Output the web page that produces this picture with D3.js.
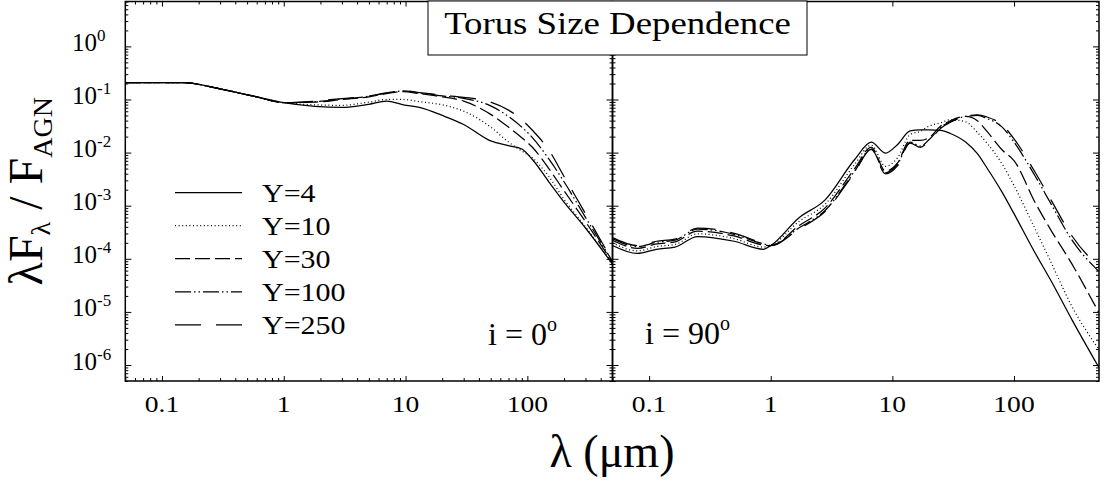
<!DOCTYPE html>
<html>
<head>
<meta charset="utf-8">
<script src="https://cdn.jsdelivr.net/npm/d3@7"></script>
<style>
  html, body { margin: 0; padding: 0; background: #fff; }
  svg { display: block; }
</style>
</head>
<body>
<div id="chart"></div>
<script>
// ---- data -------------------------------------------------------------
const seriesNames = ["Y=4", "Y=10", "Y=30", "Y=100", "Y=250"];

// face-on (i = 0°) spectra
const lambdaFaceOn = [0.05, 0.15, 0.3, 0.6, 1, 1.8, 3, 5, 7, 9.6, 13, 20, 30, 50, 70, 90, 110, 150, 200, 300, 500];
const faceOnY4   = [0.207, 0.207, 0.158, 0.112, 0.0871, 0.0741, 0.0708, 0.0813, 0.0933, 0.0794, 0.0708, 0.0501, 0.0339, 0.0166, 0.0135, 0.0117, 0.00741, 0.00282, 0.00117, 3.80e-4, 7.94e-5];
const faceOnY10  = [0.207, 0.207, 0.158, 0.112, 0.0871, 0.0794, 0.0776, 0.0891, 0.100, 0.100, 0.0912, 0.0794, 0.0603, 0.0302, 0.0158, 0.0107, 0.00794, 0.00355, 0.00132, 3.98e-4, 8.13e-5];
const faceOnY30  = [0.207, 0.207, 0.158, 0.112, 0.0871, 0.0891, 0.100, 0.112, 0.129, 0.141, 0.129, 0.112, 0.0933, 0.0525, 0.0302, 0.0191, 0.0126, 0.00501, 0.00191, 5.01e-4, 8.51e-5];
const faceOnY100 = [0.207, 0.207, 0.158, 0.112, 0.0871, 0.0912, 0.102, 0.115, 0.132, 0.145, 0.132, 0.117, 0.105, 0.0759, 0.0479, 0.0302, 0.0191, 0.00759, 0.00282, 6.03e-4, 8.91e-5];
const faceOnY250 = [0.207, 0.207, 0.158, 0.112, 0.0871, 0.0933, 0.104, 0.116, 0.133, 0.146, 0.135, 0.120, 0.110, 0.0891, 0.0631, 0.0417, 0.0263, 0.0112, 0.00355, 7.08e-4, 9.12e-5];

// edge-on (i = 90°) spectra
const lambdaEdgeOn = [0.05, 0.08, 0.115, 0.163, 0.25, 0.5, 0.87, 1.0, 1.7, 2.8, 4.9, 6.7, 8.8, 11, 14, 17, 20, 25, 30, 40, 50, 60, 80, 100, 150, 200, 300, 500];
const edgeOnY4   = [1.78e-4, 1.26e-4, 1.51e-4, 1.66e-4, 2.63e-4, 2.14e-4, 1.51e-4, 1.78e-4, 5.89e-4, 1.29e-3, 7.41e-3, 1.58e-2, 9.77e-3, 1.41e-2, 2.57e-2, 2.69e-2, 2.69e-2, 2.63e-2, 2.29e-2, 1.58e-2, 9.55e-3, 5.13e-3, 1.78e-3, 7.08e-4, 1.26e-4, 3.98e-5, 7.08e-6, 8.91e-7];
const edgeOnY10  = [2.00e-4, 1.41e-4, 1.70e-4, 1.86e-4, 2.95e-4, 2.40e-4, 1.66e-4, 1.78e-4, 5.01e-4, 1.07e-3, 6.03e-3, 1.38e-2, 5.50e-3, 7.94e-3, 2.19e-2, 2.51e-2, 3.16e-2, 3.63e-2, 4.17e-2, 3.80e-2, 2.40e-2, 1.51e-2, 6.03e-3, 2.40e-3, 3.55e-4, 8.91e-5, 1.26e-5, 1.95e-6];
const edgeOnY30  = [2.24e-4, 1.58e-4, 1.91e-4, 2.09e-4, 3.31e-4, 2.69e-4, 1.82e-4, 1.78e-4, 4.17e-4, 9.12e-4, 5.01e-3, 1.26e-2, 4.47e-3, 6.31e-3, 1.70e-2, 1.70e-2, 1.91e-2, 3.16e-2, 3.98e-2, 4.79e-2, 3.98e-2, 2.51e-2, 1.12e-2, 7.08e-3, 1.12e-3, 3.55e-4, 7.94e-5, 9.55e-6];
const edgeOnY100 = [2.40e-4, 1.70e-4, 2.04e-4, 2.24e-4, 3.63e-4, 2.88e-4, 1.91e-4, 1.78e-4, 3.80e-4, 8.13e-4, 4.47e-3, 1.17e-2, 4.17e-3, 6.03e-3, 1.58e-2, 1.32e-2, 1.74e-2, 3.02e-2, 3.80e-2, 4.79e-2, 5.01e-2, 4.37e-2, 3.02e-2, 1.58e-2, 3.55e-3, 1.12e-3, 2.24e-4, 5.75e-5];
const edgeOnY250 = [2.51e-4, 1.78e-4, 2.14e-4, 2.34e-4, 3.80e-4, 3.02e-4, 1.95e-4, 1.78e-4, 3.63e-4, 7.76e-4, 4.27e-3, 1.15e-2, 3.98e-3, 5.62e-3, 1.51e-2, 1.26e-2, 1.66e-2, 2.88e-2, 3.72e-2, 4.79e-2, 5.13e-2, 4.68e-2, 3.31e-2, 1.82e-2, 4.17e-3, 1.32e-3, 2.69e-4, 6.92e-5];

// axis ticks
const xMajorTicks = [0.1, 1, 10, 100];
const xTickLabels = ["0.1", "1", "10", "100"];
const yMajorTicks = [1, 0.1, 0.01, 1e-3, 1e-4, 1e-5, 1e-6];
const yTickExponents = ["0", "-1", "-2", "-3", "-4", "-5", "-6"];

// ---- layout -----------------------------------------------------------
const W = 1108, H = 481;
const FONT = "'Liberation Serif', 'Times New Roman', Times, serif";
const plotTop = 1.5, plotBottom = 381;
const panels = [
  { x0: 125.3, x1: 612.5, lambda: lambdaFaceOn,
    series: [faceOnY4, faceOnY10, faceOnY30, faceOnY100, faceOnY250],
    note: "i = 0", noteX: 488, noteY: 345, minorX: true },
  { x0: 612.5, x1: 1099, lambda: lambdaEdgeOn,
    series: [edgeOnY4, edgeOnY10, edgeOnY30, edgeOnY100, edgeOnY250],
    note: "i = 90", noteX: 645, noteY: 344, minorX: false }
];
const dashes = [null, "1,2.6", "15,5", "16,3,1.5,3,1.5,3", "26,15"];

const svg = d3.select("#chart").append("svg")
  .attr("width", W).attr("height", H)
  .style("font-family", FONT);

const y = d3.scaleLog().domain([5e-7, 7]).range([plotBottom, plotTop]);
const yMinor = y.ticks().filter(v => !yMajorTicks.some(m => Math.abs(v / m - 1) < 1e-6));

function text(g, x, yy, sx) {
  return g.append("text")
    .attr("transform", `translate(${x},${yy}) scale(${sx},1)`)
    .attr("fill", "#000");
}

panels.forEach((p, i) => {
  const x = d3.scaleLog().domain([0.05, 500]).range([p.x0, p.x1]);
  const g = svg.append("g");

  // curves
  const clipId = "clip" + i;
  svg.append("clipPath").attr("id", clipId).append("rect")
    .attr("x", p.x0).attr("y", plotTop).attr("width", p.x1 - p.x0).attr("height", plotBottom - plotTop);
  const line = d3.line()
    .x(d => x(d[0])).y(d => y(d[1]))
    .curve(d3.curveMonotoneX);
  p.series.forEach((vals, k) => {
    g.append("path")
      .attr("clip-path", `url(#${clipId})`)
      .attr("d", line(p.lambda.map((l, j) => [l, vals[j]])))
      .attr("fill", "none").attr("stroke", "#000")
      .attr("stroke-width", 1.25)
      .attr("stroke-dasharray", dashes[k]);
  });

  // x ticks (inward), bottom and top
  const xMinor = x.ticks().filter(v => !xMajorTicks.some(m => Math.abs(v / m - 1) < 1e-6));
  const addX = (axisFn, ty, vals, len) => {
    const a = g.append("g").attr("transform", `translate(0,${ty})`)
      .call(axisFn(x).tickValues(vals).tickSize(len).tickFormat(""));
    a.select(".domain").remove();
    a.selectAll("line").attr("stroke-width", 1);
  };
  addX(d3.axisBottom, plotBottom, xMajorTicks, -5);
  addX(d3.axisTop, plotTop, xMajorTicks, -5);
  if (p.minorX) {
    addX(d3.axisBottom, plotBottom, xMinor, -3);
    addX(d3.axisTop, plotTop, xMinor, -3);
  }

  // y ticks (inward), left and right
  const addY = (axisFn, tx, vals, len) => {
    const a = g.append("g").attr("transform", `translate(${tx},0)`)
      .call(axisFn(y).tickValues(vals).tickSize(len).tickFormat(""));
    a.select(".domain").remove();
    a.selectAll("line").attr("stroke-width", 1);
  };
  addY(d3.axisLeft, p.x0, yMajorTicks, -6);
  addY(d3.axisLeft, p.x0, yMinor, -3);
  addY(d3.axisRight, p.x1, yMajorTicks, -6);
  addY(d3.axisRight, p.x1, yMinor, -3);

  // frame
  g.append("rect")
    .attr("x", p.x0).attr("y", plotTop)
    .attr("width", p.x1 - p.x0).attr("height", plotBottom - plotTop)
    .attr("fill", "none").attr("stroke", "#000").attr("stroke-width", 1.5);

  // x tick labels
  xMajorTicks.forEach((v, j) => {
    text(g, x(v), 412, 1.2)
      .attr("text-anchor", "middle")
      .attr("font-size", 23)
      .text(xTickLabels[j]);
  });

  // inclination note
  const t = text(g, p.noteX, p.noteY, 1.0).attr("font-size", 32);
  t.append("tspan").text(p.note);
  t.append("tspan").attr("font-size", 20).attr("dy", -14).text("o");
});

// y tick labels
yMajorTicks.forEach((v, j) => {
  const t = text(svg, 72, y(v) + 4.5, 1.0).attr("font-size", 25);
  t.append("tspan").text("10");
  t.append("tspan").attr("font-size", 17).attr("dy", -10).text(yTickExponents[j]);
});

// y axis title
{
  const t = svg.append("text")
    .attr("transform", `translate(42,${(plotTop + plotBottom) / 2}) rotate(-90)`)
    .attr("text-anchor", "middle")
    .attr("font-size", 48);
  t.append("tspan").text("λF");
  t.append("tspan").attr("font-size", 28).attr("dy", 8).text("λ");
  t.append("tspan").attr("dy", -8).text(" / F");
  t.append("tspan").attr("font-size", 28).attr("dy", 10).text("AGN");
}

// x axis title
text(svg, 612, 467, 1.0).attr("text-anchor", "middle").attr("font-size", 46)
  .text("λ (μm)");

// title box
svg.append("rect")
  .attr("x", 428).attr("y", 1).attr("width", 379).attr("height", 54)
  .attr("fill", "#fff").attr("stroke", "#000").attr("stroke-width", 1);
text(svg, 617.5, 34, 1.15).attr("text-anchor", "middle").attr("font-size", 32)
  .text("Torus Size Dependence");

// legend
const legX0 = 175, legX1 = 242, legY0 = 192.5, legDy = 33.1;
seriesNames.forEach((name, k) => {
  const ly = legY0 + k * legDy;
  svg.append("line")
    .attr("x1", legX0).attr("x2", legX1).attr("y1", ly).attr("y2", ly)
    .attr("stroke", "#000").attr("stroke-width", 1.25)
    .attr("stroke-dasharray", dashes[k]);
  text(svg, 262, ly + 9, 1.2).attr("font-size", 25).text(name);
});
</script>
</body>
</html>
